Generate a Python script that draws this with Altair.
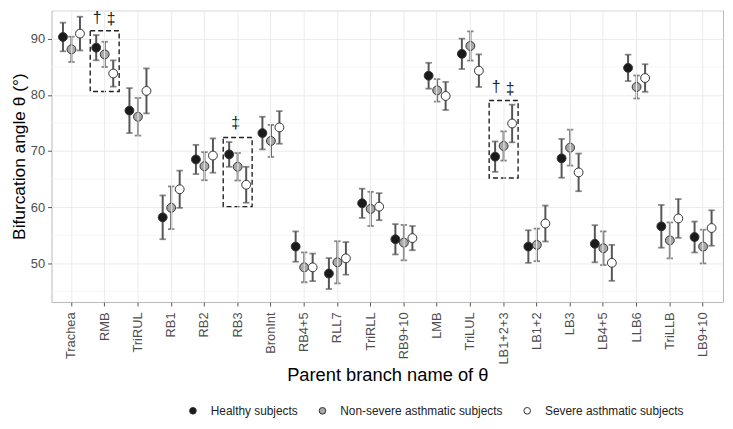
import altair as alt
import pandas as pd

categories = ["Trachea", "RMB", "TriRUL", "RB1", "RB2", "RB3", "BronInt", "RB4+5",
              "RLL7", "TriRLL", "RB9+10", "LMB", "TriLUL", "LB1+2+3", "LB1+2", "LB3",
              "LB4+5", "LLB6", "TriLLB", "LB9+10"]
groups = ["Healthy subjects", "Non-severe asthmatic subjects", "Severe asthmatic subjects"]

healthy_mean = [90.3, 88.4, 77.2, 58.2, 68.5, 69.4, 73.2, 53.0, 48.2, 60.7,
                54.3, 83.4, 87.3, 69.0, 53.0, 68.7, 53.5, 84.8, 56.6, 54.7]
healthy_err = [2.55, 2.25, 4.0, 3.9, 2.6, 2.2, 2.9, 2.7, 2.75, 2.6,
               2.7, 2.3, 2.7, 2.7, 2.9, 3.45, 3.3, 2.35, 3.8, 2.75]
nonsevere_mean = [88.1, 87.2, 76.1, 59.9, 67.3, 67.2, 71.8, 49.3, 50.2, 59.7,
                  53.7, 80.8, 88.7, 70.9, 53.3, 70.6, 52.7, 81.4, 54.1, 53.0]
nonsevere_err = [2.25, 2.25, 3.35, 3.8, 2.5, 2.45, 2.85, 2.65, 3.75, 3.05,
                 3.15, 2.0, 2.6, 2.6, 2.9, 3.2, 3.0, 2.05, 3.2, 3.0]
severe_mean = [90.9, 83.8, 80.7, 63.2, 69.2, 64.0, 74.2, 49.3, 50.9, 60.1,
               54.5, 79.8, 84.3, 74.9, 57.1, 66.2, 50.1, 83.0, 58.0, 56.3]
severe_err = [3.0, 2.35, 4.0, 3.3, 3.05, 3.2, 2.9, 2.45, 2.9, 2.4,
              2.15, 2.5, 2.9, 3.35, 3.2, 3.35, 3.2, 2.45, 3.45, 3.15]

group_fills = ["#1a1a1a", "#a8a8a8", "#ffffff"]

# dashed boxes (significance highlights)
box_branches = ["RMB", "RB3", "LB1+2+3"]
box_low = [80.6, 60.1, 65.2]
box_high = [91.4, 72.4, 79.0]

# significance symbols
sym_branches = ["RMB", "RMB", "RB3", "LB1+2+3", "LB1+2+3"]
sym_groups = [groups[0], groups[2], groups[1], groups[0], groups[2]]
sym_text = ["†", "‡", "‡", "†", "‡"]
sym_y = [93.6, 93.5, 74.9, 81.3, 81.0]

minor_grid = [45, 55, 65, 75, 85, 95]
y_ticks = [50, 60, 70, 80, 90]

rows = []
for g, means, errs in zip(groups, [healthy_mean, nonsevere_mean, severe_mean],
                          [healthy_err, nonsevere_err, severe_err]):
    for c, m, e in zip(categories, means, errs):
        rows.append({"branch": c, "group": g, "mean": m, "lo": m - e, "hi": m + e})
df = pd.DataFrame(rows)
caps = pd.concat([df.assign(cap=df["lo"]), df.assign(cap=df["hi"])], ignore_index=True)
boxes = pd.DataFrame({"branch": box_branches, "low": box_low, "high": box_high})
syms = pd.DataFrame({"branch": sym_branches, "group": sym_groups, "sym": sym_text, "y": sym_y})
minor = pd.DataFrame({"v": minor_grid})

FONT = "Liberation Sans"
xscale = alt.Scale(domain=categories, paddingInner=0.13, paddingOuter=0.165)
xaxis = alt.Axis(title="Parent branch name of θ", labelAngle=-90, labelPadding=6,
                 titlePadding=2, bandPosition=0.5, grid=True, titleFontSize=18.5)
yscale = alt.Scale(domain=[43.13, 95.05], nice=False, zero=False)
yaxis = alt.Axis(title="Bifurcation angle θ (°)", values=y_ticks, labelPadding=3,
                 titlePadding=2, grid=True, titleFontSize=17.5)
offset = alt.XOffset("group:N", sort=groups,
                     scale=alt.Scale(domain=groups, paddingOuter=0.2, paddingInner=0))

def X():
    return alt.X("branch:N", sort=categories, scale=xscale, axis=xaxis)

minor_layer = alt.Chart(minor).mark_rule(color="#f3f3f3", strokeWidth=0.8).encode(
    y=alt.Y("v:Q", scale=yscale, axis=yaxis)
)

box_layer = alt.Chart(boxes).mark_rect(
    fillOpacity=0, stroke="#222222", strokeWidth=1.4, strokeDash=[5, 3]
).encode(
    x=X(),
    y=alt.Y("low:Q", scale=yscale, axis=yaxis),
    y2="high:Q",
)

err_layer = alt.Chart(df).mark_rule(color="#555555", strokeWidth=2).encode(
    x=X(), xOffset=offset,
    y=alt.Y("lo:Q", scale=yscale, axis=yaxis),
    y2="hi:Q",
)

cap_layer = alt.Chart(caps).mark_tick(color="#555555", size=6.5, thickness=1.8).encode(
    x=X(), xOffset=offset,
    y=alt.Y("cap:Q", scale=yscale, axis=yaxis),
)

point_layer = alt.Chart(df).mark_point(
    shape="circle", filled=True, size=80, stroke="#333333", strokeWidth=1, opacity=1
).encode(
    x=X(), xOffset=offset,
    y=alt.Y("mean:Q", scale=yscale, axis=yaxis),
    fill=alt.Fill("group:N", sort=groups,
                  scale=alt.Scale(domain=groups, range=group_fills),
                  legend=alt.Legend(title=None, orient="none", direction="horizontal",
                                    legendX=137, legendY=399, symbolType="circle",
                                    symbolSize=45, symbolStrokeColor="#333333",
                                    symbolStrokeWidth=1, labelOffset=12,
                                    columnPadding=18, padding=0, labelLimit=0,
                                    labelFontSize=12, labelFont=FONT,
                                    labelColor="#222222")),
)

dagger_layer = alt.Chart(syms).transform_filter(alt.datum.sym == "†").mark_text(
    font=FONT, fontSize=16, color="#222222", baseline="middle", dx=1
).encode(
    x=X(), xOffset=offset,
    y=alt.Y("y:Q", scale=yscale, axis=yaxis),
    text="sym:N",
)
ddagger_layer = alt.Chart(syms).transform_filter(alt.datum.sym == "‡").mark_text(
    font=FONT, fontSize=16, color="#222222", baseline="middle", dx=-2
).encode(
    x=X(), xOffset=offset,
    y=alt.Y("y:Q", scale=yscale, axis=yaxis),
    text="sym:N",
)

chart = alt.layer(
    minor_layer, box_layer, err_layer, cap_layer, point_layer, dagger_layer, ddagger_layer
).properties(
    width=679, height=295,
    autosize=alt.AutoSizeParams(type="none"),
    padding={"left": 44, "top": 0, "right": 2, "bottom": 118},
).configure_view(
    stroke="#b8b8b8", strokeWidth=1
).configure_axis(
    labelFont=FONT, titleFont=FONT, labelColor="#4d4d4d", titleColor="#000000",
    labelFontSize=13, titleFontWeight="normal",
    tickColor="#555555", tickSize=4, gridColor="#ebebeb", gridWidth=1, domain=False,
)

chart.save("out.html", embed_options={"renderer": "svg", "actions": False})
